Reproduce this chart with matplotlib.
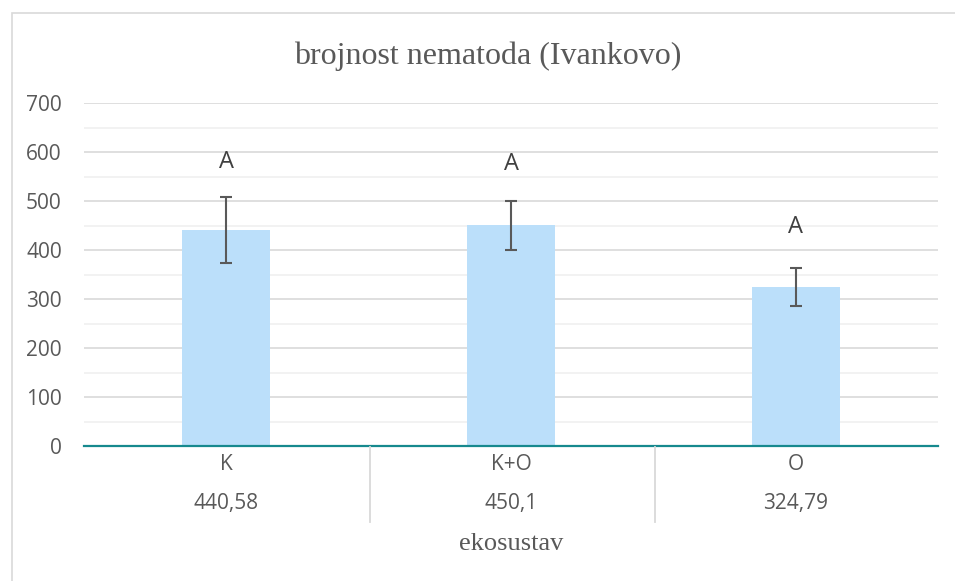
import matplotlib.pyplot as plt
from matplotlib.patches import Rectangle
from matplotlib.lines import Line2D

categories = ["K", "K+O", "O"]
means = [440.58, 450.1, 324.79]
mean_labels = ["440,58", "450,1", "324,79"]
errors = [68, 50, 39]
letters = ["A", "A", "A"]
letter_y = [580, 575, 447]
yticks = [0, 100, 200, 300, 400, 500, 600, 700]

W, H = 955, 581
fig = plt.figure(figsize=(W/100, H/100), dpi=100)
fig.patches.append(Rectangle((12/W, -0.1), 1.2, (581-13)/H + 0.1, transform=fig.transFigure,
                             fill=False, edgecolor="#d9d9d9", linewidth=1.2))

left, right, bottom, top = 84, 938, 446, 103
ax = fig.add_axes([left/W, 1-bottom/H, (right-left)/W, (bottom-top)/H])
x = list(range(len(categories)))
ax.bar(x, means, width=0.31, color="#bbdffa", zorder=2)
ax.errorbar(x, means, yerr=errors, fmt="none", ecolor="#595959", elinewidth=1.5,
            capsize=4.6, capthick=1.5, zorder=3)
for xi, ly, t in zip(x, letter_y, letters):
    ax.text(xi, ly, t, ha="center", va="center", fontsize=17, color="#404040", family="Open Sans")

ax.set_xlim(-0.5, 2.5)
ax.set_ylim(0, 700)
ax.set_yticks(yticks)
ax.set_yticks([50, 150, 250, 350, 450, 550, 650], minor=True)
ax.grid(axis="y", which="major", color="#d9d9d9", linewidth=1.2, zorder=0)
ax.grid(axis="y", which="minor", color="#f0f0f0", linewidth=1.2, zorder=0)
ax.tick_params(axis="y", which="both", length=0, labelsize=15, labelcolor="#595959", pad=16)
for lab in ax.get_yticklabels():
    lab.set_family("Open Sans")
ax.set_xticks([])
for s in ["top", "right", "left"]:
    ax.spines[s].set_visible(False)
ax.spines["bottom"].set_color("#16898e")
ax.spines["bottom"].set_linewidth(1.6)
ax.spines["bottom"].set_zorder(4)

# table-like x axis
for xi, c, m in zip(x, categories, mean_labels):
    fig.text((left + (xi + 0.5) * (right-left)/3)/W, 1-465/H, c, ha="center", va="center",
             fontsize=15, color="#595959", family="Open Sans")
    fig.text((left + (xi + 0.5) * (right-left)/3)/W, 1-503/H, m, ha="center", va="center",
             fontsize=15, color="#595959", family="Open Sans")
for sx in [370, 655]:
    fig.lines.append(Line2D([sx/W, sx/W], [1-447/H, 1-522/H], transform=fig.transFigure,
                            color="#d9d9d9", linewidth=1.3))

fig.text(488/W, 1-56/H, "brojnost nematoda (Ivankovo)", ha="center", va="center",
         fontsize=23, color="#595959", family="Liberation Serif")
fig.text(511/W, 1-544/H, "ekosustav", ha="center", va="center",
         fontsize=19, color="#595959", family="Liberation Serif")

fig.savefig("out.png", dpi=100)
